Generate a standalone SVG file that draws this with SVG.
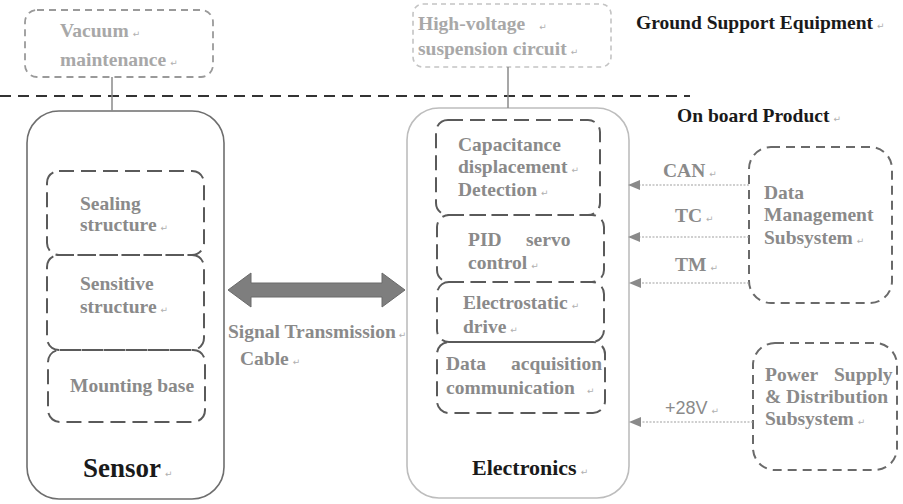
<svg xmlns="http://www.w3.org/2000/svg" width="903" height="504" viewBox="0 0 903 504">
<defs>
<style>
text{font-family:"Liberation Serif","Times New Roman",serif;font-weight:bold;font-size:19.5px;fill:#8a8a8a}
.lt{fill:#a8a8a8}
.blk{fill:#1a1a1a}
.big{font-size:27px}
.mid{font-size:22px}
.pm{font-size:9px;fill:#b0b0b0;font-weight:normal;font-family:"DejaVu Sans",sans-serif}
.sans{font-family:"Liberation Sans",Arial,sans-serif;font-weight:normal;font-size:18px}
.inner{fill:none;stroke:#5a5a5a;stroke-width:2;stroke-dasharray:15 7}
.ext{fill:none;stroke:#6a6a6a;stroke-width:2;stroke-dasharray:9 6}
.gse{fill:none;stroke:#9a9a9a;stroke-width:1.8;stroke-dasharray:7 5}
.gse2{fill:none;stroke:#c4c4c4;stroke-width:1.6;stroke-dasharray:5 4}
.conn{fill:none;stroke:#a0a0a0;stroke-width:1.2;stroke-dasharray:2 1.5}
.head{fill:#8a8a8a}
</style>
</defs>
<rect width="903" height="504" fill="#ffffff"/>

<!-- boundary -->
<line x1="0" y1="96" x2="690" y2="96" stroke="#333" stroke-width="2" stroke-dasharray="11 7"/>
<text class="blk" x="636" y="29">Ground Support Equipment<tspan class="pm" dx="4">↵</tspan></text>
<text class="blk" x="677" y="122">On board Product<tspan class="pm" dx="4">↵</tspan></text>

<g id="vacuum">
<rect class="gse" x="25" y="10" width="188" height="67" rx="12"/>
<text class="lt" x="60" y="37">Vacuum<tspan class="pm" dx="4">↵</tspan></text>
<text class="lt" x="60" y="66">maintenance<tspan class="pm" dx="4">↵</tspan></text>
</g>

<g id="hv">
<rect class="gse2" x="413" y="4" width="198" height="63" rx="10"/>
<text class="lt" x="418" y="30">High-voltage<tspan class="pm" dx="14">↵</tspan></text>
<text class="lt" x="418" y="55">suspension circuit<tspan class="pm" dx="4">↵</tspan></text>
</g>

<g id="sensor">
<rect x="27" y="111" width="197" height="388" rx="32" fill="none" stroke="#6e6e6e" stroke-width="1.6"/>
<g id="sealing">
<rect class="inner" x="47" y="171" width="157" height="84" rx="12"/>
<text x="80" y="210">Sealing</text>
<text x="80" y="231">structure<tspan class="pm" dx="4">↵</tspan></text>
</g>
<g id="sensitive">
<rect class="inner" x="47" y="255" width="157" height="95" rx="12"/>
<text x="80" y="290">Sensitive</text>
<text x="80" y="313">structure<tspan class="pm" dx="4">↵</tspan></text>
</g>
<g id="mounting">
<rect class="inner" x="48" y="350" width="157" height="72" rx="12"/>
<text x="70" y="392">Mounting base</text>
</g>
<text class="blk big" x="83" y="477">Sensor<tspan class="pm" dx="4">↵</tspan></text>
</g>

<g id="electronics">
<rect x="407" y="108" width="222" height="390" rx="32" fill="none" stroke="#bdbdbd" stroke-width="1.6"/>
<g id="capacitance">
<rect class="inner" x="436" y="120" width="164" height="95" rx="12"/>
<text x="458" y="151">Capacitance</text>
<text x="458" y="173">displacement<tspan class="pm" dx="4">↵</tspan></text>
<text x="458" y="196">Detection<tspan class="pm" dx="4">↵</tspan></text>
</g>
<g id="pid">
<rect class="inner" x="437" y="215" width="167" height="67" rx="12"/>
<text x="468" y="246">PID</text>
<text x="526" y="246">servo</text>
<text x="468" y="269">control<tspan class="pm" dx="4">↵</tspan></text>
</g>
<g id="electrostatic">
<rect class="inner" x="437" y="282" width="167" height="60" rx="12"/>
<text x="463" y="309">Electrostatic<tspan class="pm" dx="4">↵</tspan></text>
<text x="463" y="333">drive<tspan class="pm" dx="4">↵</tspan></text>
</g>
<g id="daq">
<rect class="inner" x="437" y="342" width="168" height="71" rx="12"/>
<text x="446" y="370">Data</text>
<text x="511" y="370">acquisition</text>
<text x="446" y="394">communication<tspan class="pm" dx="12">↵</tspan></text>
</g>
<text class="blk mid" x="472" y="475">Electronics<tspan class="pm" dx="4">↵</tspan></text>
</g>

<g id="dms">
<rect class="ext" x="749" y="147" width="143" height="156" rx="22"/>
<text x="764" y="199">Data</text>
<text x="764" y="221">Management</text>
<text x="764" y="244">Subsystem<tspan class="pm" dx="4">↵</tspan></text>
</g>

<g id="psd">
<rect class="ext" x="753" y="343" width="144" height="127" rx="22"/>
<text x="765" y="381">Power</text>
<text x="834" y="381">Supply</text>
<text x="765" y="403">&amp; Distribution</text>
<text x="765" y="425">Subsystem<tspan class="pm" dx="4">↵</tspan></text>
</g>

<g id="connectors">
<line x1="112" y1="77" x2="112" y2="111" stroke="#8a8a8a" stroke-width="1.5"/>
<line x1="508" y1="67" x2="508" y2="108" stroke="#8a8a8a" stroke-width="1.5"/>
<path d="M228,290 L251,273 L251,283 L382,283 L382,273 L405,290 L382,307 L382,297 L251,297 L251,307 Z" fill="#7e7e7e" stroke="#6a6a6a" stroke-width="1"/>
<line class="conn" x1="749" y1="185" x2="638" y2="185"/>
<polygon class="head" points="628,185 640,180 640,190"/>
<line class="conn" x1="749" y1="237" x2="638" y2="237"/>
<polygon class="head" points="628,237 640,232 640,242"/>
<line class="conn" x1="749" y1="283" x2="639" y2="283"/>
<polygon class="head" points="629,283 641,278 641,288"/>
<line class="conn" x1="753" y1="422" x2="639" y2="422"/>
<polygon class="head" points="629,422 641,417 641,427"/>
<text x="663" y="177">CAN<tspan class="pm" dx="4">↵</tspan></text>
<text x="675" y="222">TC<tspan class="pm" dx="4">↵</tspan></text>
<text x="675" y="271">TM<tspan class="pm" dx="4">↵</tspan></text>
<text class="sans" x="665" y="414">+28V<tspan class="pm" dx="4">↵</tspan></text>
<text x="228" y="338">Signal Transmission<tspan class="pm" dx="3">↵</tspan></text>
<text x="240" y="365">Cable<tspan class="pm" dx="4">↵</tspan></text>
</g>
</svg>
